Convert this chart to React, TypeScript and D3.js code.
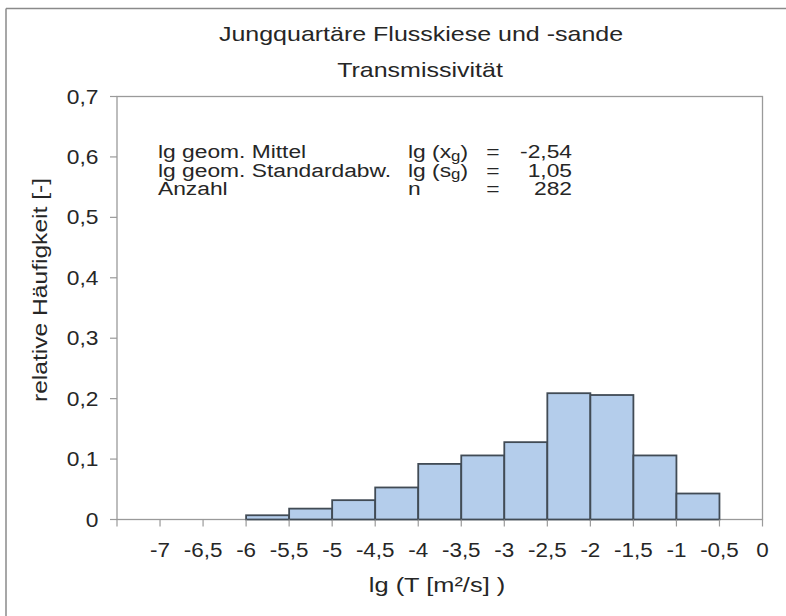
import React from "react";
import * as d3 from "d3";

const binStarts = [-6, -5.5, -5, -4.5, -4, -3.5, -3, -2.5, -2, -1.5, -1];
const binWidth = 0.5;
const relFreq = [0.007, 0.018, 0.032, 0.053, 0.092, 0.106, 0.128, 0.209, 0.206, 0.106, 0.043];
const yTicks = [0, 0.1, 0.2, 0.3, 0.4, 0.5, 0.6, 0.7];
const xTickMarks = [-7.5, -7, -6.5, -6, -5.5, -5, -4.5, -4, -3.5, -3, -2.5, -2, -1.5, -1, -0.5, 0];
const xTickLabels = [-7, -6.5, -6, -5.5, -5, -4.5, -4, -3.5, -3, -2.5, -2, -1.5, -1, -0.5, 0];
const titleLines = ["Jungquartäre Flusskiese und -sande", "Transmissivität"];
const xAxisTitle = "lg (T [m²/s] )";
const yAxisTitle = "relative Häufigkeit [-]";
const statLabels = ["lg geom. Mittel", "lg geom. Standardabw.", "Anzahl"];
const statSymbols = [["lg (x", "g", ")"], ["lg (s", "g", ")"], ["n", "", ""]];
const statValues = ["-2,54", "1,05", "282"];

const W = 786;
const H = 616;
const FONT = "'Liberation Sans', Arial, Helvetica, sans-serif";
const TEXT = "#262626";
const AXIS = "#9a9a9a";

const fmt = (v: number) => String(v).replace(".", ",");

type TProps = {
  x: number;
  y: number;
  size: number;
  sx?: number;
  anchor?: "start" | "middle" | "end";
  rotate?: number;
  children: React.ReactNode;
};

function T({ x, y, size, sx = 1.2, anchor = "start", rotate = 0, children }: TProps) {
  const tr = `translate(${x},${y})${rotate ? ` rotate(${rotate})` : ""} scale(${sx},1)`;
  return (
    <text transform={tr} textAnchor={anchor} fontSize={size} fill={TEXT}>
      {children}
    </text>
  );
}

export default function App() {
  const x = d3.scaleLinear().domain([-7.5, 0]).range([117, 762.5]);
  const y = d3.scaleLinear().domain([0, 0.7]).range([519.5, 96.5]);
  const [x0, x1] = x.range();
  const [yb, yt] = y.range();

  return (
    <div style={{ position: "absolute", left: 0, top: 0, width: W, height: H, background: "#fff" }}>
      <svg width={W} height={H} style={{ display: "block" }} fontFamily={FONT}>
        <rect x={0} y={0} width={W} height={H} fill="#fff" />
        {/* outer border (top and left) */}
        <line x1={6} y1={8.5} x2={W} y2={8.5} stroke="#8a8a8a" strokeWidth={1.5} />
        <line x1={6} y1={8.5} x2={6} y2={H} stroke="#8a8a8a" strokeWidth={1.5} />

        {/* titles */}
        <T x={421} y={41} size={21} sx={1.19} anchor="middle">{titleLines[0]}</T>
        <T x={420} y={77} size={21} sx={1.19} anchor="middle">{titleLines[1]}</T>

        {/* plot frame */}
        <rect x={x0} y={yt} width={x1 - x0} height={yb - yt} fill="#fff" stroke={AXIS} strokeWidth={1.3} />

        {/* bars */}
        {binStarts.map((s, i) => (
          <rect
            key={i}
            x={x(s)}
            y={y(relFreq[i])}
            width={x(s + binWidth) - x(s)}
            height={y(0) - y(relFreq[i])}
            fill="#b4cdeb"
            stroke="#414b55"
            strokeWidth={1.8}
          />
        ))}

        {/* y axis ticks */}
        {yTicks.map((t) => (
          <g key={t}>
            <line x1={x0 - 7} x2={x0} y1={y(t)} y2={y(t)} stroke={AXIS} strokeWidth={1.2} />
            <T x={98.5} y={y(t) + 7} size={20} sx={1.14} anchor="end">{fmt(t)}</T>
          </g>
        ))}

        {/* x axis ticks */}
        {xTickMarks.map((t) => (
          <line key={t} x1={x(t)} x2={x(t)} y1={yb} y2={yb + 7} stroke={AXIS} strokeWidth={1.2} />
        ))}
        {xTickLabels.map((t) => (
          <T key={t} x={x(t)} y={557} size={19.5} sx={1.15} anchor="middle">{fmt(t)}</T>
        ))}

        {/* axis titles */}
        <T x={437} y={592} size={21} sx={1.21} anchor="middle">{xAxisTitle}</T>
        <T x={47} y={290} size={20} sx={1.23} anchor="middle" rotate={-90}>{yAxisTitle}</T>

        {/* statistics */}
        {statLabels.map((lab, i) => {
          const by = 158.3 + i * 18.4;
          const sym = statSymbols[i];
          return (
            <g key={lab}>
              <T x={158} y={by} size={19} sx={1.2}>{lab}</T>
              <T x={408} y={by} size={19} sx={1.2}>
                {sym[0]}
                {sym[1] ? <tspan fontSize={14} dy={2.5}>{sym[1]}</tspan> : null}
                {sym[2] ? <tspan dy={sym[1] ? -2.5 : 0}>{sym[2]}</tspan> : null}
              </T>
              <T x={493} y={by} size={19} sx={1.2} anchor="middle">=</T>
              <T x={572} y={by} size={19} sx={1.2} anchor="end">{statValues[i]}</T>
            </g>
          );
        })}
      </svg>
    </div>
  );
}
